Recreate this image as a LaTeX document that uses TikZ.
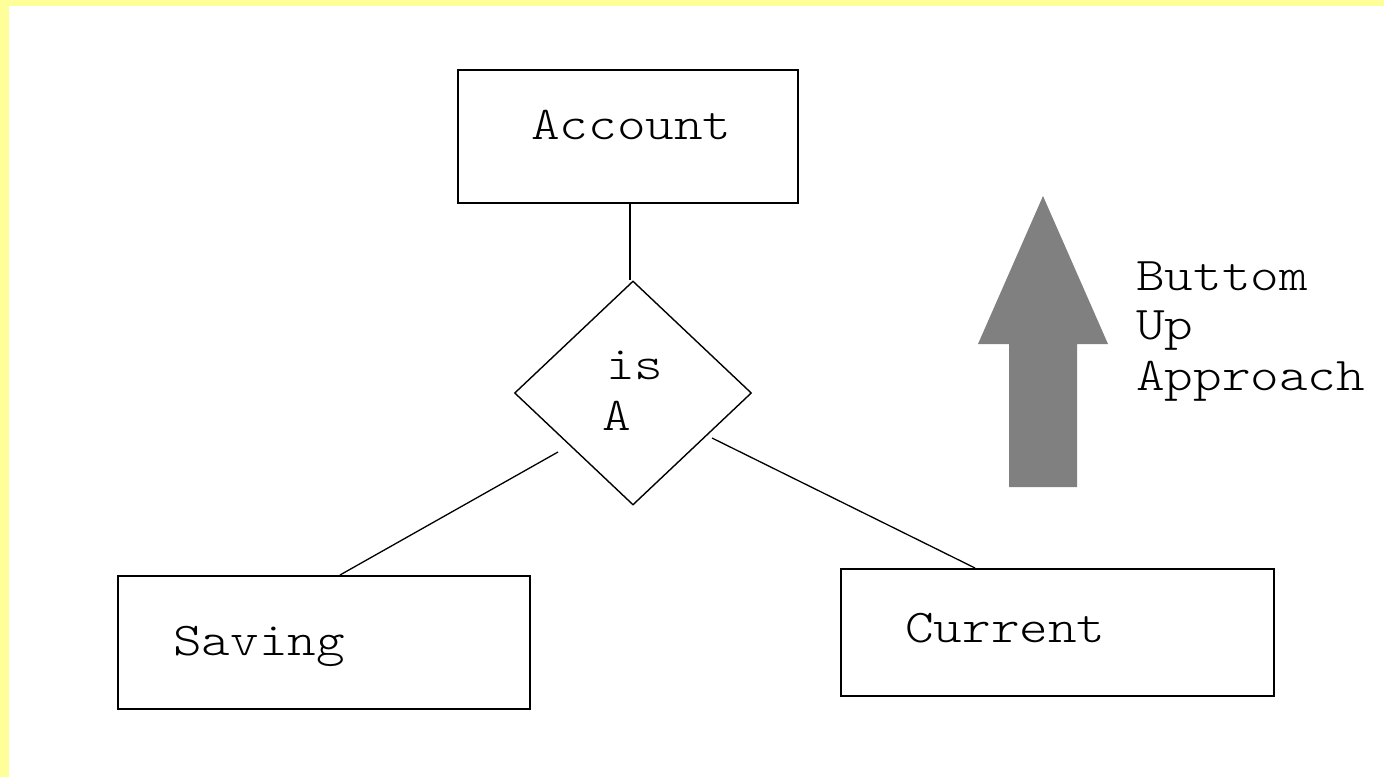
\documentclass[tikz,border=0pt]{standalone}
\usepackage{fontspec}
\setmonofont[FakeStretch=1.16]{lmmonolt10-regular.otf}
\usetikzlibrary{shapes.geometric}
\definecolor{paneledge}{HTML}{FFFF99}
\definecolor{arrowgray}{HTML}{808080}
\begin{document}
\begin{tikzpicture}[x=1pt,y=-1pt,
  entity/.style={draw=black,line width=1.8pt,inner sep=0pt,anchor=north west},
  relation/.style={draw=black,line width=1.4pt,diamond,inner sep=0pt,
    minimum width=237pt,minimum height=224pt,align=left},
  link/.style={draw=black,line width=1.3pt},
  lbl/.style={font=\fontsize{47}{51}\selectfont\ttfamily,inner sep=0pt,anchor=base west}
]
% page with a pale yellow edge on the top and left
\useasboundingbox (0,0) rectangle (1384,777);
\fill[paneledge] (0,0) rectangle (1384,777);
\fill[white] (9,6) rectangle (1384,777);

% entity boxes
\node[entity,minimum width=340pt,minimum height=133pt] (acc) at (457,69) {};
\node[entity,minimum width=412pt,minimum height=133pt] (sav) at (117,575) {};
\node[entity,minimum width=433pt,minimum height=127pt] (cur) at (840,568) {};
\node[lbl] (acct) at (531,139) {Account};
\node[lbl] (savt) at (173,655) {Saving};
\node[lbl] (curt) at (905,642) {Current};

% is-a relationship
\node[relation] (isa) at (633,393) {};
\node[lbl] (ist) at (606,379) {is};
\node[lbl] (at) at (602,430) {A};

% connectors
\draw[link] ([xshift=-3pt]isa.north |- acc.south) -- ([xshift=-3pt]isa.north);
\coordinate (isaL) at (558,452);
\coordinate (isaR) at (712,438);
\draw[link] (isaL) -- ([xshift=223pt]sav.north west);
\draw[link] (isaR) -- ([xshift=135pt]cur.north west);

% bottom-up arrow
\fill[arrowgray] (1009,487) -- (1077,487) -- (1077,344) -- (1108,344)
  -- (1043,196) -- (978,344) -- (1009,344) -- cycle;
\node[lbl] (bt1) at (1136,290) {Buttom};
\node[lbl] (bt2) at (1136,339) {Up};
\node[lbl] (bt3) at (1136,390) {Approach};
\end{tikzpicture}
\end{document}
